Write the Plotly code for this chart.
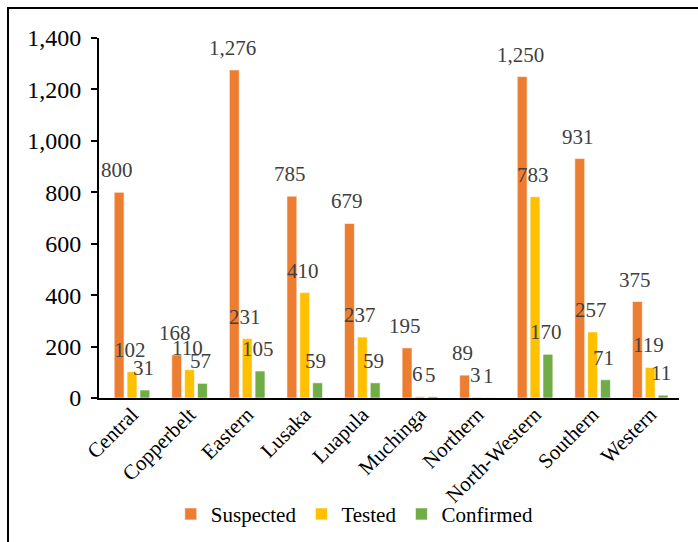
import plotly.graph_objects as go

provinces = ["Central", "Copperbelt", "Eastern", "Lusaka", "Luapula", "Muchinga",
             "Northern", "North-Western", "Southern", "Western"]
suspected = [800, 168, 1276, 785, 679, 195, 89, 1250, 931, 375]
tested = [102, 110, 231, 410, 237, 6, 3, 783, 257, 119]
confirmed = [31, 57, 105, 59, 59, 5, 1, 170, 71, 11]
y_ticks = [0, 200, 400, 600, 800, 1000, 1200, 1400]

series = [("Suspected", suspected, "#ED7D31"),
          ("Tested", tested, "#FFC000"),
          ("Confirmed", confirmed, "#70AD47")]

FONT = "Liberation Serif"

fig = go.Figure()
annotations = []
for i, (name, vals, col) in enumerate(series):
    fig.add_trace(go.Bar(
        name=name, x=provinces, y=vals,
        marker=dict(color=col, line=dict(color="rgba(255,255,255,0.6)", width=1)),
    ))
    for cat, v in zip(provinces, vals):
        annotations.append(dict(
            x=cat, y=v, xref="x", yref="y", text=f"{v:,}", showarrow=False,
            xshift=(i - 1) * 13 - 2, yshift=22, yanchor="middle", xanchor="center",
            font=dict(family=FONT, size=21, color="#404040"),
        ))

plot_l, plot_r, plot_t, plot_b = 99, 679, 38, 398
W, H = 698, 542
pw, ph = plot_r - plot_l, plot_b - plot_t

fig.update_layout(
    width=W, height=H,
    margin=dict(l=plot_l, r=W - plot_r, t=plot_t, b=H - plot_b, pad=0, autoexpand=False),
    paper_bgcolor="white", plot_bgcolor="white",
    barmode="group", bargap=0.33, bargroupgap=0.23,
    font=dict(family=FONT, color="black"),
    annotations=annotations,
    legend=dict(orientation="h", x=0.441, xanchor="center", y=-0.323, yanchor="middle",
                font=dict(family=FONT, size=21, color="black"),
                bgcolor="rgba(0,0,0,0)",
                itemwidth=30, traceorder="normal"),
    xaxis=dict(showline=True, linecolor="black", linewidth=2, ticks="",
               tickangle=-45, tickfont=dict(family=FONT, size=21, color="black"),
               ticklabelstandoff=-6, showgrid=False, automargin=False),
    yaxis=dict(range=[0, 1400], tickvals=y_ticks, tickformat=",", showline=True,
               linecolor="black", linewidth=2, ticks="outside", ticklen=6,
               tickcolor="black", tickwidth=1.5, showgrid=False, zeroline=False,
               ticklabelstandoff=5, automargin=False,
               tickfont=dict(family=FONT, size=24, color="black")),
    shapes=[dict(type="rect", xref="paper", yref="paper",
                 x0=(8 - plot_l) / pw, x1=1 + (W + 20 - plot_r) / pw,
                 y0=-(H + 20 - plot_b) / ph, y1=1 + (plot_t - 8) / ph,
                 line=dict(color="black", width=2), fillcolor="rgba(0,0,0,0)",
                 layer="above")],
)

fig.write_html("out.html")
